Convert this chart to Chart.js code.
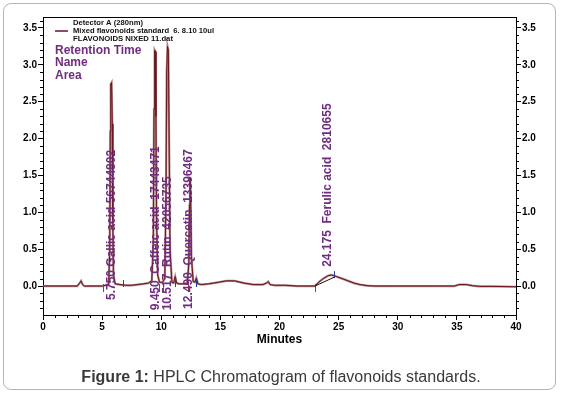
<!DOCTYPE html>
<html lang="en">
<head>
  <meta charset="UTF-8">
  <title>HPLC Chromatogram of flavonoids standards</title>
  <style>
    body {
      margin: 0;
      background: #fff;
      font-family: 'Liberation Sans', Arial, sans-serif;
    }
    .wrap {
      position: relative;
      width: 562px;
      height: 396px;
    }
    .frame {
      position: absolute;
      left: 3px;
      top: 3px;
      width: 551px;
      height: 385px;
      border: 1px solid #b4b4b4;
      border-radius: 8px;
    }
    canvas {
      position: absolute;
      left: 0;
      top: 0;
    }
    .caption {
      position: absolute;
      left: 0;
      top: 368px;
      width: 562px;
      text-align: center;
      font-size: 16px;
      color: #3a3a3a;
    }
  </style>
</head>
<body>
  <div class="wrap">
    <div class="frame"></div>
    <canvas id="chrom" width="562" height="396"></canvas>
    <div class="caption"><b>Figure 1:</b> HPLC Chromatogram of flavonoids standards.</div>
  </div>

  <script src="https://cdn.jsdelivr.net/npm/chart.js"></script>
  <script>
    // retention time (min) and absorbance
    const times = [
      0, 2.9, 3.1, 3.22, 3.35, 3.5, 4.5, 5.0,
      5.55, 5.64, 5.69, 5.73, 5.8, 5.86, 5.9, 5.96,
      6.1, 6.5, 7.0, 7.5, 8.0, 8.5, 8.9, 9.2,
      9.33, 9.39, 9.44, 9.5, 9.55, 9.6, 9.7, 9.85,
      10.1, 10.3, 10.4, 10.46, 10.53, 10.6, 10.66, 10.74,
      10.9, 11.05, 11.18, 11.3, 11.5, 11.9, 12.2, 12.33,
      12.39, 12.43, 12.48, 12.55, 12.7, 12.85, 12.97, 13.1,
      13.4, 14.0, 14.8, 15.5, 16.2, 17.0, 17.8, 18.6,
      18.9, 19.05, 19.2, 19.6, 20.5, 21.5, 22.5, 23.0,
      23.3, 23.7, 24.1, 24.4, 24.8, 25.3, 25.8, 26.3,
      26.8, 27.4, 28.0, 30.0, 33.0, 34.8, 35.2, 35.8,
      36.3, 36.9, 38.0, 40.0
    ];
    const absorb = [
      0, 0, 0.04, 0.07, 0.02, 0, 0, 0,
      0.02, 0.45, 2.1, 2.74, 2.76, 2.2, 0.9, 0.15,
      0.03, 0.02, 0.01, 0.01, 0.02, 0.03, 0.04, 0.07,
      0.6, 2.4, 3.2, 3.18, 2.3, 0.9, 0.15, 0.05,
      0.05, 0.1, 1.2, 2.9, 3.25, 3.2, 2.1, 0.5,
      0.05, 0.04, 0.13, 0.04, 0.03, 0.03, 0.04, 0.3,
      1.1, 1.48, 1.3, 0.4, 0.06, 0.05, 0.11, 0.03,
      0.02, 0.03, 0.05, 0.07, 0.07, 0.04, 0.02, 0.02,
      0.04, 0.06, 0.02, 0.01, 0.01, 0, 0, 0,
      0.05, 0.1, 0.14, 0.15, 0.13, 0.1, 0.07, 0.04,
      0.02, 0.005, 0, 0, 0, 0, 0.02, 0.02,
      0.005, -0.005, -0.005, -0.01
    ];

    // peak annotations
    const peakLabelTimes = [5.84, 9.51, 10.53, 12.35, 24.1];
    const peakLabelBase = [-0.19, -0.33, -0.33, -0.31, 0.26];
    const peakLabels = [
      '5.750 Gallic acid 56744802',
      '9.450  Caffeic acid  17443471',
      '10.517  Rutin  42056735',
      '12.490  Quercetin  13396467',
      '24.175  Ferulic acid  2810655'
    ];

    // integration start / end markers
    const startMarks = [5.1, 9.85, 10.15, 12.26, 23.0];
    const endMarks = [6.8, 11.2, 12.95, 24.63];
    const endMarkLevels = [0, 0, 0, 0.12];

    const yMin = -0.393, yMax = 3.649;
    const purple = '#6f2c80';
    const fontFam = "'Liberation Sans', Arial, sans-serif";

    const trace = times.map((t, i) => ({ x: t, y: absorb[i] }));

    const decor = {
      id: 'decor',
      afterDraw(chart) {
        const ctx = chart.ctx;
        const area = chart.chartArea;
        const xs = chart.scales.x;
        const ys = chart.scales.y;
        ctx.save();

        // top frame line
        ctx.strokeStyle = '#000';
        ctx.lineWidth = 1;
        ctx.beginPath();
        ctx.moveTo(area.left, area.top + 0.5);
        ctx.lineTo(area.right, area.top + 0.5);
        ctx.stroke();

        // minor ticks
        ctx.beginPath();
        for (let m = 1; m < 40; m++) {
          if (m % 5 === 0) continue;
          const px = Math.round(xs.getPixelForValue(m)) + 0.5;
          ctx.moveTo(px, area.bottom);
          ctx.lineTo(px, area.bottom + 3);
        }
        for (let k = -3; k <= 36; k++) {
          if (k % 5 === 0) continue;
          const py = Math.round(ys.getPixelForValue(k / 10)) + 0.5;
          ctx.moveTo(area.left, py);
          ctx.lineTo(area.left - 3, py);
          ctx.moveTo(area.right, py);
          ctx.lineTo(area.right + 3, py);
        }
        ctx.stroke();

        // integration markers
        ctx.strokeStyle = '#c0282c';
        ctx.beginPath();
        startMarks.forEach(t => {
          const px = Math.round(xs.getPixelForValue(t)) + 0.5;
          const py = ys.getPixelForValue(0);
          ctx.moveTo(px, py - 2);
          ctx.lineTo(px, py + 6);
        });
        ctx.stroke();
        ctx.strokeStyle = '#2a3a9c';
        ctx.beginPath();
        endMarks.forEach((t, i) => {
          const px = Math.round(xs.getPixelForValue(t)) + 0.5;
          const py = ys.getPixelForValue(endMarkLevels[i]);
          ctx.moveTo(px, py + 1);
          ctx.lineTo(px, py - 6);
        });
        ctx.stroke();
        // ferulic acid baseline
        ctx.strokeStyle = '#111';
        ctx.beginPath();
        ctx.moveTo(xs.getPixelForValue(startMarks[4]), ys.getPixelForValue(0));
        ctx.lineTo(xs.getPixelForValue(endMarks[3]), ys.getPixelForValue(endMarkLevels[3]));
        ctx.stroke();

        // rotated peak labels
        ctx.fillStyle = purple;
        ctx.font = 'bold 12px ' + fontFam;
        ctx.textAlign = 'left';
        ctx.textBaseline = 'middle';
        peakLabels.forEach((txt, i) => {
          ctx.save();
          ctx.translate(xs.getPixelForValue(peakLabelTimes[i]), ys.getPixelForValue(peakLabelBase[i]));
          ctx.rotate(-Math.PI / 2);
          ctx.fillText(txt, 0, 0);
          ctx.restore();
        });

        // header block
        ctx.strokeStyle = '#6a1520';
        ctx.lineWidth = 1.5;
        ctx.beginPath();
        ctx.moveTo(55, 31);
        ctx.lineTo(68, 31);
        ctx.stroke();
        ctx.fillStyle = '#111';
        ctx.font = 'bold 8px ' + fontFam;
        ctx.fillText('Detector A (280nm)', 73, 22.5, 70);
        ctx.fillText('Mixed flavonoids standard  6. 8.10 10ul', 73, 30.5, 141);
        ctx.fillText('FLAVONOIDS NIXED 11.dat', 73, 38.5, 100);

        ctx.fillStyle = purple;
        ctx.font = 'bold 12px ' + fontFam;
        ctx.fillText('Retention Time', 55, 51, 88);
        ctx.fillText('Name', 55, 63);
        ctx.fillText('Area', 55, 75.5);

        ctx.restore();
      }
    };

    const tickFont = { family: fontFam, size: 10, weight: 'bold' };

    new Chart(document.getElementById('chrom'), {
      type: 'line',
      data: {
        datasets: [
          {
            data: trace,
            borderColor: '#6a1520',
            borderWidth: 1,
            pointRadius: 0,
            tension: 0,
            order: 0
          },
          {
            data: trace,
            borderColor: 'rgba(165,120,118,0.9)',
            borderWidth: 2.2,
            pointRadius: 0,
            tension: 0,
            order: 1
          }
        ]
      },
      options: {
        responsive: false,
        animation: false,
        layout: { padding: { top: 17, left: 0, right: 0, bottom: 49 } },
        plugins: {
          legend: { display: false },
          tooltip: { enabled: false }
        },
        scales: {
          x: {
            type: 'linear',
            min: 0,
            max: 40,
            border: { color: '#000', width: 1 },
            grid: { drawOnChartArea: false, tickLength: 5, color: '#000' },
            ticks: {
              stepSize: 5,
              color: '#000',
              font: tickFont,
              padding: 1,
              maxRotation: 0,
              autoSkip: false
            },
            title: {
              display: true,
              text: 'Minutes',
              color: '#000',
              font: { family: fontFam, size: 12, weight: 'bold' },
              padding: { top: 2, bottom: 0 }
            },
            afterFit(s) { s.height = 32; }
          },
          y: {
            position: 'left',
            min: yMin,
            max: yMax,
            border: { color: '#000', width: 1 },
            grid: { drawOnChartArea: false, tickLength: 5, color: '#000' },
            ticks: {
              stepSize: 0.5,
              includeBounds: false,
              color: '#000',
              font: tickFont,
              padding: 1,
              callback: v => v.toFixed(1)
            },
            afterFit(s) { s.width = 43; }
          },
          y2: {
            position: 'right',
            min: yMin,
            max: yMax,
            border: { color: '#000', width: 1 },
            grid: { drawOnChartArea: false, tickLength: 5, color: '#000' },
            ticks: {
              stepSize: 0.5,
              includeBounds: false,
              color: '#000',
              font: tickFont,
              padding: 1,
              callback: v => v.toFixed(1)
            },
            afterFit(s) { s.width = 46; }
          }
        }
      },
      plugins: [decor]
    });
  </script>
</body>
</html>
